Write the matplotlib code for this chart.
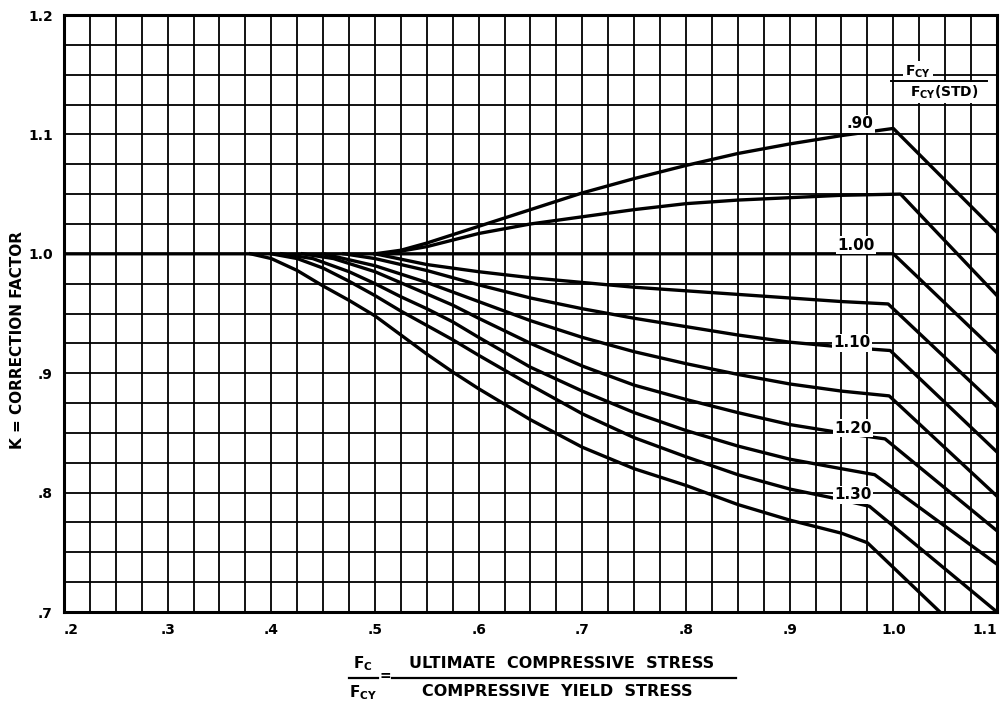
import matplotlib
matplotlib.use('Agg')
import matplotlib.pyplot as plt
import numpy as np

# ---- data ----
x_090 = [0.50, 0.525, 0.55, 0.575, 0.60, 0.65, 0.70, 0.75, 0.80, 0.85, 0.90, 0.95, 1.00, 1.10]
k_090 = [1.000, 1.003, 1.009, 1.016, 1.023, 1.037, 1.051, 1.063, 1.074, 1.084, 1.092, 1.099, 1.105, 1.018]

x_095 = [0.51, 0.55, 0.60, 0.65, 0.70, 0.75, 0.80, 0.85, 0.90, 0.95, 1.007, 1.10]
k_095 = [1.000, 1.006, 1.017, 1.025, 1.031, 1.037, 1.042, 1.045, 1.047, 1.049, 1.050, 0.965]

x_100 = [0.20, 1.00, 1.10]
k_100 = [1.000, 1.000, 0.917]

x_105 = [0.50, 0.55, 0.60, 0.65, 0.70, 0.75, 0.80, 0.85, 0.90, 0.95, 0.995, 1.10]
k_105 = [1.000, 0.991, 0.985, 0.980, 0.976, 0.972, 0.969, 0.966, 0.963, 0.960, 0.958, 0.872]

x_110 = [0.47, 0.50, 0.55, 0.60, 0.65, 0.70, 0.75, 0.80, 0.85, 0.90, 0.95, 0.997, 1.10]
k_110 = [1.000, 0.996, 0.986, 0.974, 0.963, 0.954, 0.946, 0.939, 0.932, 0.926, 0.922, 0.919, 0.834]

x_115 = [0.45, 0.50, 0.525, 0.55, 0.575, 0.60, 0.65, 0.70, 0.75, 0.80, 0.85, 0.90, 0.95, 0.996, 1.10]
k_115 = [1.000, 0.990, 0.983, 0.976, 0.968, 0.960, 0.944, 0.930, 0.918, 0.908, 0.899, 0.891, 0.885, 0.881, 0.797]

x_120 = [0.43, 0.46, 0.50, 0.535, 0.575, 0.60, 0.65, 0.70, 0.75, 0.80, 0.85, 0.90, 0.95, 0.992, 1.10]
k_120 = [1.000, 0.996, 0.985, 0.972, 0.957, 0.946, 0.925, 0.906, 0.890, 0.878, 0.867, 0.857, 0.850, 0.845, 0.768]

x_125 = [0.41, 0.44, 0.475, 0.50, 0.525, 0.55, 0.575, 0.60, 0.65, 0.70, 0.75, 0.80, 0.85, 0.90, 0.95, 0.982, 1.10]
k_125 = [1.000, 0.996, 0.985, 0.975, 0.964, 0.954, 0.943, 0.930, 0.905, 0.885, 0.867, 0.852, 0.839, 0.828, 0.820, 0.815, 0.740]

x_130 = [0.40, 0.425, 0.45, 0.475, 0.50, 0.525, 0.55, 0.575, 0.60, 0.65, 0.70, 0.75, 0.80, 0.85, 0.90, 0.95, 0.977, 1.10]
k_130 = [1.000, 0.996, 0.988, 0.977, 0.965, 0.952, 0.940, 0.928, 0.915, 0.890, 0.866, 0.846, 0.830, 0.815, 0.803, 0.794, 0.7885, 0.700]

x_135 = [0.38, 0.40, 0.425, 0.45, 0.475, 0.50, 0.525, 0.55, 0.575, 0.60, 0.65, 0.70, 0.75, 0.80, 0.85, 0.90, 0.95, 0.975, 1.045]
k_135 = [1.000, 0.996, 0.986, 0.973, 0.961, 0.948, 0.932, 0.916, 0.901, 0.887, 0.861, 0.838, 0.820, 0.806, 0.790, 0.777, 0.766, 0.758, 0.700]

curve_x = [x_090, x_095, x_100, x_105, x_110, x_115, x_120, x_125, x_130, x_135]
curve_k = [k_090, k_095, k_100, k_105, k_110, k_115, k_120, k_125, k_130, k_135]

labelled_ratios = ['.90', '1.00', '1.10', '1.20', '1.30']

x_ticks = [0.2, 0.3, 0.4, 0.5, 0.6, 0.7, 0.8, 0.9, 1.0, 1.1]
x_tick_labels = ['.2', '.3', '.4', '.5', '.6', '.7', '.8', '.9', '1.0', '1.1']
y_ticks = [0.7, 0.8, 0.9, 1.0, 1.1, 1.2]
y_tick_labels = ['.7', '.8', '.9', '1.0', '1.1', '1.2']

# ---- figure ----
W, H = 1008, 709
fig = plt.figure(figsize=(W / 100, H / 100), dpi=100)
plt.rcParams['mathtext.default'] = 'bf'
left, right, top, bottom = 64, 997, 15, 612
ax = fig.add_axes([left / W, 1 - bottom / H, (right - left) / W, (bottom - top) / H])
ax.set_xlim(0.2, 1.1)
ax.set_ylim(0.7, 1.2)

ax.set_xticks(x_ticks)
ax.set_xticklabels(x_tick_labels)
ax.set_yticks(y_ticks)
ax.set_yticklabels(y_tick_labels)
ax.set_xticks(np.arange(0.2, 1.1001, 0.025), minor=True)
ax.set_yticks(np.arange(0.7, 1.2001, 0.025), minor=True)
ax.tick_params(which='both', length=0)
ax.tick_params(axis='x', pad=8)
ax.tick_params(axis='y', pad=8)
for lab in ax.get_xticklabels() + ax.get_yticklabels():
    lab.set_fontweight('bold')
    lab.set_fontsize(10)
xlabs = ax.get_xticklabels()
xlabs[0].set_horizontalalignment('left')
xlabs[-1].set_horizontalalignment('right')
ax.grid(which='both', color='black', linewidth=1.3)
ax.set_axisbelow(True)
for s in ax.spines.values():
    s.set_linewidth(2.2)

for xs, ks in zip(curve_x, curve_k):
    ax.plot(xs, ks, color='black', linewidth=2.4, solid_joinstyle='round', zorder=3)

# curve labels
lab_pos = [(0.968, 1.109), (0.964, 1.007), (0.960, 0.9256), (0.961, 0.854), (0.961, 0.798)]
for txt, (lx, ly) in zip(labelled_ratios, lab_pos):
    ax.text(lx, ly, txt, ha='center', va='center', fontsize=11, fontweight='bold', zorder=4,
            bbox=dict(boxstyle='square,pad=0.1', facecolor='white', edgecolor='none'))

# header fraction
ax.text(1.0235, 1.1525, r'$F_{CY}$', ha='center', va='center', fontsize=10, zorder=4,
        bbox=dict(boxstyle='square,pad=0.15', facecolor='white', edgecolor='none'))
ax.text(1.049, 1.135, r'$F_{CY}$(STD)', ha='center', va='center', fontsize=10, fontweight='bold', zorder=4,
        bbox=dict(boxstyle='square,pad=0.15', facecolor='white', edgecolor='none'))
ax.plot([0.9975, 1.09], [1.1445, 1.1445], color='black', linewidth=1.4, zorder=5)


def fx(px):
    return px / W


def fy(py):
    return 1 - py / H

# y label
fig.text(fx(18), fy(340), 'K = CORRECTION FACTOR', rotation=90, ha='center', va='center',
         fontsize=11, fontweight='bold')

# x label fraction
fig.text(fx(363), fy(664), r'$F_C$', ha='center', va='center', fontsize=11)
fig.text(fx(363), fy(693), r'$F_{CY}$', ha='center', va='center', fontsize=11)
fig.add_artist(plt.Line2D([fx(349), fx(378)], [fy(678), fy(678)], color='black', linewidth=1.6))
fig.text(fx(385), fy(676), '=', ha='center', va='center', fontsize=10, fontweight='bold')
fig.text(fx(562), fy(663), 'ULTIMATE  COMPRESSIVE  STRESS', ha='center', va='center',
         fontsize=11.5, fontweight='bold')
fig.text(fx(557), fy(692), 'COMPRESSIVE  YIELD  STRESS', ha='center', va='center',
         fontsize=11.5, fontweight='bold')
fig.add_artist(plt.Line2D([fx(392), fx(736)], [fy(678), fy(678)], color='black', linewidth=1.6))

fig.savefig('out.png', dpi=100, facecolor='white')
